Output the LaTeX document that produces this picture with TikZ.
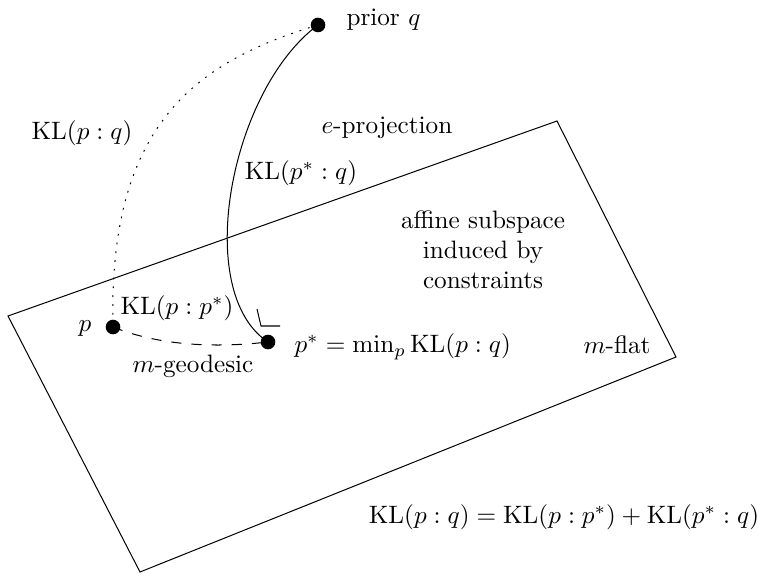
\documentclass[tikz,border=0pt]{standalone}
\begin{document}
\begin{tikzpicture}[x=0.397pt,y=-0.397pt,
  dot/.style={circle,fill=black,inner sep=0pt,minimum size=5.8pt},
  lbl/.style={inner sep=0pt},
  sparsedots/.style={dash pattern=on 0.7pt off 2.8pt},
  longdash/.style={dash pattern=on 4pt off 4pt}]
\useasboundingbox (0,0) rectangle (758,573);
% affine subspace (m-flat)
\coordinate (cL) at (8,316);
\coordinate (cT) at (557,121);
\coordinate (cR) at (676,357);
\coordinate (cB) at (140,572);
\draw (cL) -- (cT) -- (cR) -- (cB) -- cycle;
% points
\node[dot] (q) at (318,25) {};
\node[dot] (p) at (113,327) {};
\node[dot] (ps) at (268,342) {};
% connectors
\draw (q.center) .. controls (230,90) and (192,292) .. (ps.center);
\draw[sparsedots] (q.center) .. controls (195,62) and (108,125) .. (p.center);
\draw[longdash] (p.center) .. controls (165,348) and (225,347) .. (ps.center);
% right angle mark
\coordinate (ra1) at (257,309);
\coordinate (ra2) at (261,326);
\coordinate (ra3) at (280,326);
\draw (ra1) -- (ra2) -- (ra3);
% labels
\node[lbl,anchor=west] (lq) at (346,20) {prior $q$};
\node[lbl,anchor=west] (lep) at (321,128) {$e$-projection};
\node[lbl] (lkpsq) at (301,173) {$\mathrm{KL}(p^*:q)$};
\node[lbl] (lkpq) at (82,133) {$\mathrm{KL}(p:q)$};
\node[lbl,align=center] (laff) at (483,250) {affine subspace\\induced by\\constraints};
\node[lbl] (lkpps) at (177,308) {$\mathrm{KL}(p:p^*)$};
\node[lbl] (lp) at (85,329) {$p$};
\node[lbl,anchor=west] (lgeo) at (132,366) {$m$-geodesic};
\node[lbl,anchor=west] (lps) at (294,347) {$p^*=\min_p \mathrm{KL}(p:q)$};
\node[lbl,anchor=west] (lflat) at (583,345) {$m$-flat};
\node[lbl] (leq) at (564,517) {$\mathrm{KL}(p:q)=\mathrm{KL}(p:p^*)+\mathrm{KL}(p^*:q)$};
\end{tikzpicture}
\end{document}
